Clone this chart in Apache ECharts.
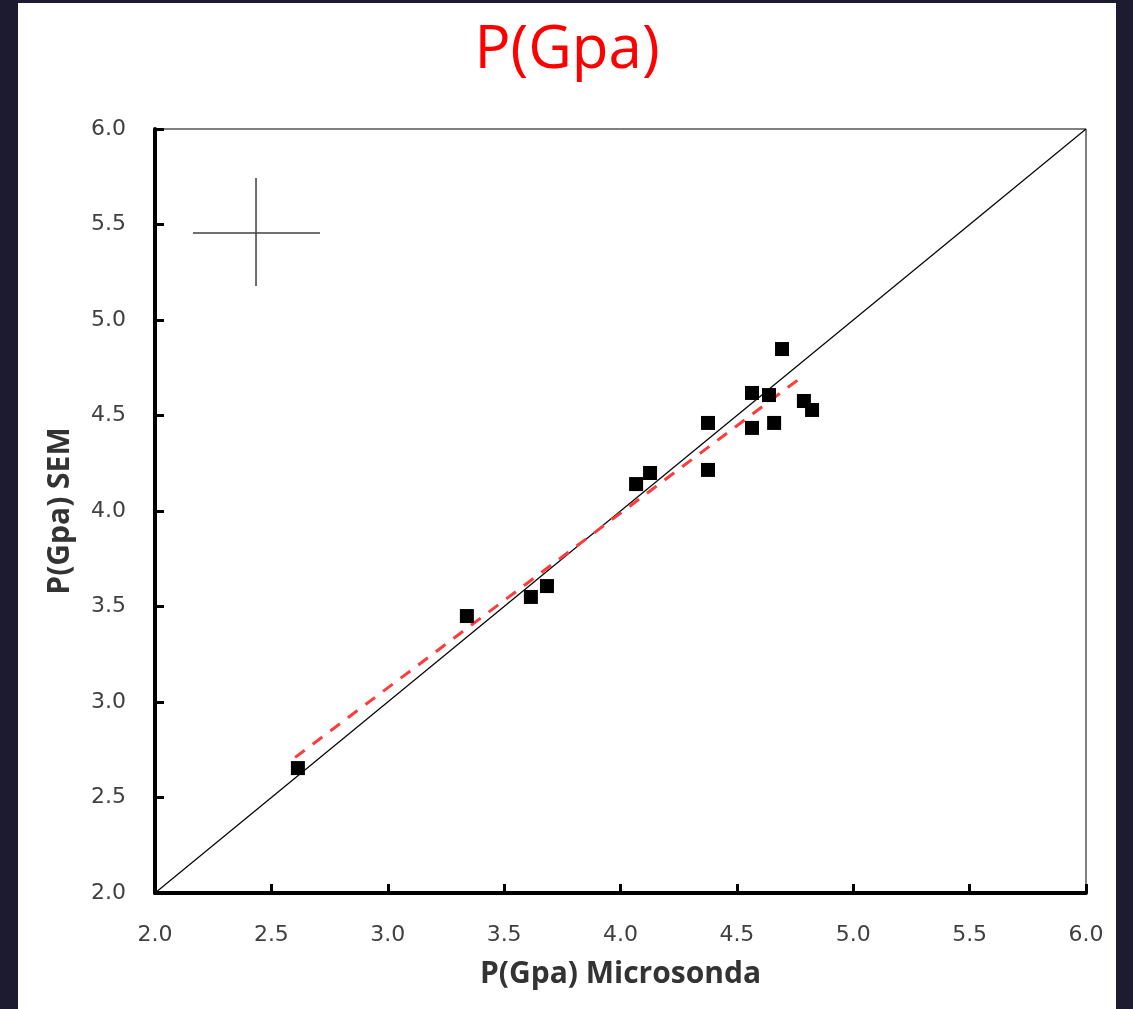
<!DOCTYPE html>
<html>
<head>
<meta charset="utf-8">
<script src="https://cdn.jsdelivr.net/npm/echarts@6/dist/echarts.min.js"></script>
<style>
  html, body { margin: 0; padding: 0; background: #1c1b2f; }
  #wrap { position: relative; width: 1133px; height: 1009px; background: #1c1b2f; }
  #chart { position: absolute; left: 18px; top: 3px; width: 1098px; height: 1006px; background: #fff; }
</style>
</head>
<body>
<div id="wrap"><div id="chart"></div></div>
<script>
// measured points: microprobe (x) vs SEM (y)
const microsonda = [2.614, 3.340, 3.615, 3.684, 4.067, 4.127, 4.376, 4.376, 4.565, 4.565, 4.638, 4.660, 4.694, 4.788, 4.823]
const sem = [2.654, 3.450, 3.550, 3.607, 4.141, 4.199, 4.461, 4.215, 4.618, 4.435, 4.607, 4.461, 4.848, 4.576, 4.529]

// 1:1 reference line and linear trend
const identityLine = [[2, 2], [6, 6]]
const trendLine = [[2.602, 2.710], [4.785, 4.707]]

// error cross in the corner
const crossH = [[2.163, 5.455], [2.709, 5.455]]
const crossV = [[2.434, 5.743], [2.434, 5.178]]

const axisMin = 2
const axisMax = 6
const tickStep = 0.5

const chart = echarts.init(document.getElementById('chart'))

const points = microsonda.map((x, i) => [x, sem[i]])

const tickLabel = {
  fontFamily: 'DejaVu Sans',
  fontSize: 22,
  color: '#404040',
  formatter: (v) => v.toFixed(1),
}

chart.setOption({
  animation: false,
  title: {
    text: 'P(Gpa)',
    left: 'center',
    top: 13,
    textStyle: {
      fontFamily: 'Open Sans',
      fontSize: 60,
      fontWeight: 'normal',
      color: '#ff0000',
    },
  },
  grid: {
    left: 137,
    right: 30,
    top: 126,
    bottom: 116,
    show: true,
    borderColor: '#000',
    borderWidth: 1,
  },
  xAxis: {
    type: 'value',
    min: axisMin,
    max: axisMax,
    interval: tickStep,
    name: 'P(Gpa) Microsonda',
    nameLocation: 'middle',
    nameGap: 66,
    nameTextStyle: { fontFamily: 'Open Sans', fontSize: 30, fontWeight: 'bold', color: '#333' },
    axisLine: { show: true, lineStyle: { color: '#000', width: 4 } },
    axisTick: { show: true, inside: true, length: 9, lineStyle: { color: '#000', width: 3 } },
    axisLabel: { ...tickLabel, margin: 31 },
    splitLine: { show: false },
  },
  yAxis: {
    type: 'value',
    min: axisMin,
    max: axisMax,
    interval: tickStep,
    name: 'P(Gpa) SEM',
    nameLocation: 'middle',
    nameGap: 80,
    nameTextStyle: { fontFamily: 'Open Sans', fontSize: 30, fontWeight: 'bold', color: '#333' },
    axisLine: { show: true, lineStyle: { color: '#000', width: 4 } },
    axisTick: { show: true, inside: true, length: 9, lineStyle: { color: '#000', width: 3 } },
    axisLabel: { ...tickLabel, margin: 29 },
    splitLine: { show: false },
  },
  series: [
    {
      type: 'line',
      data: identityLine,
      symbol: 'none',
      lineStyle: { color: '#000', width: 1.2 },
      z: 2,
    },
    {
      type: 'line',
      data: trendLine,
      symbol: 'none',
      lineStyle: { color: '#ff3b3b', width: 3, type: [12, 10] },
      z: 3,
    },
    {
      type: 'line',
      data: crossH,
      symbol: 'none',
      lineStyle: { color: '#404040', width: 1.5 },
    },
    {
      type: 'line',
      data: crossV,
      symbol: 'none',
      lineStyle: { color: '#404040', width: 1.5 },
    },
    {
      type: 'scatter',
      data: points,
      symbol: 'rect',
      symbolSize: 14,
      itemStyle: { color: '#000', opacity: 1 },
      z: 4,
    },
  ],
})
</script>
</body>
</html>
